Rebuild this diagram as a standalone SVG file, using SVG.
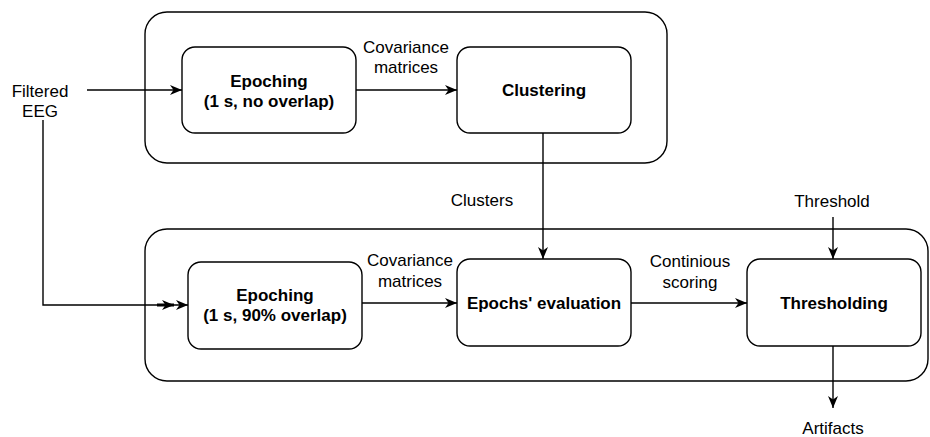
<svg xmlns="http://www.w3.org/2000/svg" width="930" height="437" viewBox="0 0 930 437">
<style>
  .box { fill: #ffffff; stroke: #000000; stroke-width: 1.4; }
  .outer { fill: none; stroke: #000000; stroke-width: 1.4; }
  .edge { fill: none; stroke: #000000; stroke-width: 1.4; marker-end: url(#arrow); }
  .t { font-family: "Liberation Sans", Arial, sans-serif; font-size: 17px; fill: #000000; text-anchor: middle; }
  .b { font-weight: bold; }
</style>
<defs>
  <marker id="arrow" markerUnits="userSpaceOnUse" viewBox="0 0 12 10" markerWidth="12" markerHeight="10" refX="12" refY="5" orient="auto">
    <path d="M0,0 L12,5 L0,10 L3.5,5 Z" fill="#000000"/>
  </marker>
</defs>
<rect fill="#ffffff" x="0" y="0" width="930" height="437"/>

<g id="groups">
  <rect id="group-top" class="outer" x="145" y="12" width="522" height="151" rx="22" ry="22"/>
  <rect id="group-bottom" class="outer" x="145" y="229" width="783" height="152" rx="22" ry="22"/>
</g>

<g id="connectors">
  <path class="edge" d="M87,90 L182,90"/>
  <path class="edge" d="M356,90 L457,90"/>
  <path class="edge" d="M543,133 L543,259"/>
  <path class="edge" d="M43,120 L43,305 L188,305"/>
  <path d="M157,305 L174,305" stroke="#000" stroke-width="3" fill="none" marker-end="url(#arrow)"/>
  <path class="edge" d="M362,303 L457,303"/>
  <path class="edge" d="M631,303 L747,303"/>
  <path class="edge" d="M833,217 L833,259"/>
  <path class="edge" d="M833,346 L833,408"/>
</g>

<g id="label-filtered-eeg">
  <text class="t" x="40" y="97">Filtered</text>
  <text class="t" x="40" y="117">EEG</text>
</g>
<g id="label-cov-top">
  <text class="t" x="406" y="53">Covariance</text>
  <text class="t" x="406" y="73">matrices</text>
</g>
<g id="label-clusters">
  <text class="t" x="482" y="206">Clusters</text>
</g>
<g id="label-threshold">
  <text class="t" x="832" y="207">Threshold</text>
</g>
<g id="label-cov-bottom">
  <text class="t" x="410" y="266">Covariance</text>
  <text class="t" x="410" y="287">matrices</text>
</g>
<g id="label-scoring">
  <text class="t" x="690" y="267">Continious</text>
  <text class="t" x="690" y="288">scoring</text>
</g>
<g id="label-artifacts">
  <text class="t" x="833" y="434">Artifacts</text>
</g>

<g id="node-epoching1">
  <rect class="box" x="182" y="47" width="174" height="86" rx="13" ry="13"/>
  <text class="t b" x="269" y="87">Epoching</text>
  <text class="t b" x="269" y="107">(1 s, no overlap)</text>
</g>
<g id="node-clustering">
  <rect class="box" x="457" y="47" width="174" height="86" rx="13" ry="13"/>
  <text class="t b" x="544" y="96">Clustering</text>
</g>
<g id="node-epoching2">
  <rect class="box" x="188" y="262" width="174" height="87" rx="13" ry="13"/>
  <text class="t b" x="275" y="301">Epoching</text>
  <text class="t b" x="275" y="321">(1 s, 90% overlap)</text>
</g>
<g id="node-evaluation">
  <rect class="box" x="457" y="259" width="174" height="87" rx="13" ry="13"/>
  <text class="t b" x="544" y="309">Epochs' evaluation</text>
</g>
<g id="node-thresholding">
  <rect class="box" x="747" y="259" width="174" height="87" rx="13" ry="13"/>
  <text class="t b" x="834" y="309">Thresholding</text>
</g>
</svg>
